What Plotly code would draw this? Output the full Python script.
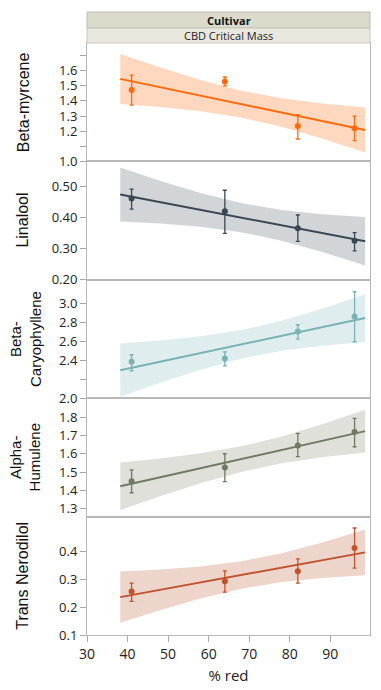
import plotly.graph_objects as go
from plotly.subplots import make_subplots

# ---------------- data ----------------
x_pts = [41, 64, 82, 96]
band_x = [38.2, 48, 58, 68, 78, 88, 98.6]

names = ["Beta-myrcene", "Linalool", "Beta-<br>Caryophyllene", "Alpha-<br>Humulene", "Trans Nerodilol"]

myrcene_mean = [1.473, 1.529, 1.234, 1.219]
myrcene_hi = [1.571, 1.558, 1.309, 1.300]
myrcene_lo = [1.372, 1.499, 1.148, 1.138]
myrcene_fit = [1.5458, 1.4910, 1.4351, 1.3791, 1.3232, 1.2673, 1.2080]
myrcene_up = [1.711, 1.623, 1.539, 1.468, 1.417, 1.383, 1.357]
myrcene_dn = [1.380, 1.359, 1.331, 1.290, 1.229, 1.152, 1.059]

linalool_mean = [0.462, 0.421, 0.366, 0.326]
linalool_hi = [0.4925, 0.489, 0.409, 0.352]
linalool_lo = [0.428, 0.350, 0.324, 0.293]
linalool_fit = [0.4751, 0.4506, 0.4256, 0.4006, 0.3756, 0.3506, 0.3241]
linalool_up = [0.5621, 0.5199, 0.4803, 0.4475, 0.4249, 0.4113, 0.4024]
linalool_dn = [0.3881, 0.3813, 0.3709, 0.3537, 0.3263, 0.2899, 0.2458]

caryo_mean = [2.383, 2.418, 2.702, 2.860]
caryo_hi = [2.457, 2.488, 2.773, 3.120]
caryo_lo = [2.288, 2.341, 2.621, 2.594]
caryo_fit = [2.2950, 2.3840, 2.4749, 2.5658, 2.6566, 2.7475, 2.8438]
caryo_up = [2.5746, 2.6067, 2.6507, 2.7166, 2.8150, 2.9425, 3.0952]
caryo_dn = [2.0154, 2.1613, 2.2991, 2.4150, 2.4982, 2.5525, 2.5924]

humulene_mean = [1.451, 1.526, 1.646, 1.719]
humulene_hi = [1.513, 1.601, 1.712, 1.794]
humulene_lo = [1.388, 1.449, 1.585, 1.639]
humulene_fit = [1.4231, 1.4720, 1.5219, 1.5718, 1.6217, 1.6716, 1.7244]
humulene_up = [1.5525, 1.5751, 1.6032, 1.6416, 1.6950, 1.7619, 1.8408]
humulene_dn = [1.2937, 1.3689, 1.4406, 1.5020, 1.5484, 1.5813, 1.6080]

nerod_mean = [0.256, 0.293, 0.329, 0.412]
nerod_hi = [0.286, 0.330, 0.373, 0.484]
nerod_lo = [0.221, 0.254, 0.286, 0.340]
nerod_fit = [0.2359, 0.2620, 0.2886, 0.3152, 0.3418, 0.3684, 0.3966]
nerod_up = [0.3276, 0.3350, 0.3462, 0.3646, 0.3937, 0.4323, 0.4790]
nerod_dn = [0.1442, 0.1890, 0.2310, 0.2658, 0.2899, 0.3045, 0.3142]

y_ranges = [[1.0, 1.783], [0.2, 0.582], [2.0, 3.246], [1.258, 1.904], [0.1, 0.525]]
y_tickvals = [
    [1.0, 1.1, 1.2, 1.3, 1.4, 1.5, 1.6, 1.7],
    [0.2, 0.3, 0.4, 0.5],
    [2.0, 2.2, 2.4, 2.6, 2.8, 3.0],
    [1.3, 1.4, 1.5, 1.6, 1.7, 1.8],
    [0.1, 0.2, 0.3, 0.4],
]
y_ticktext = [
    ["1.0", "", "1.2", "1.3", "1.4", "1.5", "1.6", ""],
    ["0.20", "0.30", "0.40", "0.50"],
    ["2.0", "", "2.4", "2.6", "2.8", "3.0"],
    ["1.3", "1.4", "1.5", "1.6", "1.7", "1.8"],
    ["0.1", "0.2", "0.3", "0.4"],
]
x_ticks = [30, 40, 50, 60, 70, 80, 90]

line_colors = ["#ff6a0d", "#3a4752", "#78b2b3", "#6f7a65", "#c0532e"]
band_colors = ["rgba(255,214,188,0.95)", "rgba(208,211,214,0.95)", "rgba(221,236,237,0.95)",
               "rgba(221,222,215,0.95)", "rgba(237,211,201,0.95)"]

series = [
    (myrcene_mean, myrcene_hi, myrcene_lo, myrcene_fit, myrcene_up, myrcene_dn),
    (linalool_mean, linalool_hi, linalool_lo, linalool_fit, linalool_up, linalool_dn),
    (caryo_mean, caryo_hi, caryo_lo, caryo_fit, caryo_up, caryo_dn),
    (humulene_mean, humulene_hi, humulene_lo, humulene_fit, humulene_up, humulene_dn),
    (nerod_mean, nerod_hi, nerod_lo, nerod_fit, nerod_up, nerod_dn),
]

# ---------------- figure ----------------
# the page body has an 8px margin, so the figure is sized/offset to compensate
OFF = 8
W, H = 381 - OFF, 690 - OFF
ML, MR, MT, MB = 87 - OFF, 11, 43 - OFF, 55
fig = make_subplots(rows=5, cols=1, shared_xaxes=True, vertical_spacing=0)

tick_font = dict(family="Open Sans, Noto Sans, sans-serif", size=13, color="#222")
title_x_page = [23, 23, 25, 25, 23]
title_size = [16, 16, 15, 15, 16]

for i, (mean, hi, lo, fit, up, dn) in enumerate(series):
    r = i + 1
    fig.add_trace(go.Scatter(
        x=band_x + band_x[::-1], y=up + dn[::-1], fill="toself",
        fillcolor=band_colors[i], line=dict(width=0), mode="lines",
        hoverinfo="skip", showlegend=False), row=r, col=1)
    fig.add_trace(go.Scatter(
        x=band_x, y=fit, mode="lines", line=dict(color=line_colors[i], width=2),
        showlegend=False), row=r, col=1)
    fig.add_trace(go.Scatter(
        x=x_pts, y=mean, mode="markers",
        marker=dict(color=line_colors[i], size=6),
        error_y=dict(type="data", symmetric=False,
                     array=[h - m for h, m in zip(hi, mean)],
                     arrayminus=[m - l for m, l in zip(mean, lo)],
                     color=line_colors[i], thickness=1.3, width=2),
        showlegend=False), row=r, col=1)
    fig.update_yaxes(row=r, col=1, range=y_ranges[i], tickvals=y_tickvals[i],
                     ticktext=y_ticktext[i], ticks="outside", ticklen=6, tickwidth=1,
                     tickcolor="#a8a8a8", showline=True, mirror=True, linecolor="#b8b8b8",
                     linewidth=1, showgrid=False, zeroline=False, automargin=False,
                     tickfont=tick_font)
    fig.update_xaxes(row=r, col=1, range=[30, 99.8], showline=True, mirror=True,
                     linecolor="#b8b8b8", linewidth=1, showgrid=False, zeroline=False,
                     tickvals=x_ticks, ticks="outside" if r == 5 else "", ticklen=6,
                     tickcolor="#a8a8a8", showticklabels=(r == 5), automargin=False,
                     tickfont=dict(family="Open Sans, Noto Sans, sans-serif", size=14, color="#222"))
    cy = 1 - (i + 0.5) * 0.2
    fig.add_annotation(text=names[i], xref="paper", yref="paper",
                       x=(title_x_page[i] - OFF - ML) / (W - ML - MR), y=cy, textangle=-90,
                       showarrow=False, xanchor="center", yanchor="middle",
                       font=dict(family="Liberation Sans, Arial, sans-serif",
                                 size=title_size[i], color="#111"))

fig.update_xaxes(row=5, col=1, title=dict(text="% red", standoff=8,
                 font=dict(family="Open Sans, Noto Sans, sans-serif", size=15, color="#222")))

ph = H - MT - MB
def py(p):
    # p is a page pixel row
    return (H - MB - (p - OFF)) / ph

fig.add_shape(type="rect", xref="paper", yref="paper", x0=0, x1=1, y0=py(28), y1=py(12),
              fillcolor="#dcdacb", line=dict(color="#bdbdb2", width=1))
fig.add_shape(type="rect", xref="paper", yref="paper", x0=0, x1=1, y0=py(43), y1=py(28),
              fillcolor="#e9e8df", line=dict(color="#c8c8bf", width=1))
fig.add_annotation(text="<b>Cultivar</b>", xref="paper", yref="paper", x=0.5, y=py(20),
                   showarrow=False, xanchor="center", yanchor="middle",
                   font=dict(family="Open Sans, Noto Sans, sans-serif", size=11, color="#111"))
fig.add_annotation(text="CBD Critical Mass", xref="paper", yref="paper", x=0.5, y=py(35.5),
                   showarrow=False, xanchor="center", yanchor="middle",
                   font=dict(family="Open Sans, Noto Sans, sans-serif", size=11, color="#222"))

fig.update_layout(width=W, height=H, margin=dict(l=ML, r=MR, t=MT, b=MB, autoexpand=False),
                  plot_bgcolor="white", paper_bgcolor="white")
fig.write_html("out.html")
